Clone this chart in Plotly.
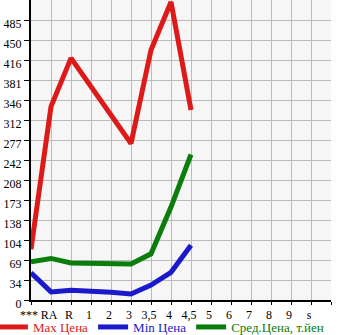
import plotly.graph_objects as go

categories = ["***", "RA", "R", "1", "2", "3", "3,5", "4", "4,5", "5", "6", "7", "8", "9", "s", ""]
max_price = [88, 335, 419, None, None, 271, 433, 516, 329]
min_price = [47, 14, 17, 15.6, 13.3, 10.4, 26, 48, 95]
avg_price = [66, 72, 64, 63.5, 63.5, 62.4, 80, 161, 252]
y_step = 34.64
y_ticktext = ["0", "34", "69", "104", "138", "173", "208", "242", "277", "312",
              "346", "381", "416", "450", "485"]

series = [
    ("Max Цена", max_price, "#dd1a1a"),
    ("Min Цена", min_price, "#1a1acc"),
    ("Сред.Цена, т.йен", avg_price, "#0a7d0a"),
]

fig = go.Figure()
for name, vals, col in series:
    fig.add_trace(go.Scatter(
        x=categories[:len(vals)], y=vals, mode="lines", connectgaps=True,
        name=f"<span style='color:{col}'>{name}</span>",
        line=dict(color=col, width=5),
    ))

font = dict(family="Liberation Serif, DejaVu Serif, serif", size=12, color="#000")
fig.update_layout(
    width=345, height=335,
    margin=dict(l=31, r=14, t=0, b=35, autoexpand=False),
    paper_bgcolor="white", plot_bgcolor="#f6f6f6",
    font=font,
    showlegend=True,
    legend=dict(orientation="h", x=-0.127, xanchor="left", y=-0.09, yanchor="middle",
                font=dict(family="Liberation Serif, DejaVu Serif, serif", size=13),
                itemwidth=30, tracegroupgap=0, bgcolor="rgba(0,0,0,0)"),
)
fig.update_xaxes(
    type="category", categoryorder="array", categoryarray=categories,
    range=[0, 15], showgrid=True, gridcolor="#bbbbbb", gridwidth=1,
    showline=True, linecolor="#000", linewidth=2,
    ticks="outside", ticklen=3, tickcolor="#000", tickfont=font,
    ticklabelshift=-2, zeroline=False, fixedrange=True,
)
fig.update_yaxes(
    range=[0, 15 * y_step],
    tickvals=[i * y_step for i in range(len(y_ticktext))], ticktext=y_ticktext,
    showgrid=True, gridcolor="#bbbbbb", gridwidth=1,
    showline=True, linecolor="#000", linewidth=2,
    ticks="outside", ticklen=5, tickcolor="#000", tickfont=font,
    ticklabelshift=4, zeroline=False, fixedrange=True,
)

fig.write_html("out.html", config={"displayModeBar": False})
